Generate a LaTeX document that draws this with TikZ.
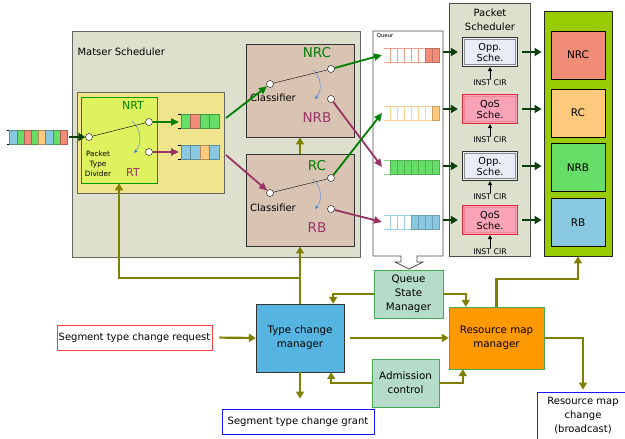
\documentclass[tikz,border=0pt]{standalone}
\usepackage{fontspec}
\setmainfont{DejaVu Sans}
\usetikzlibrary{arrows.meta, positioning, calc}

\definecolor{schedgray}{RGB}{221,224,204}
\definecolor{divyellow}{RGB}{240,228,140}
\definecolor{divlime}{RGB}{222,242,96}
\definecolor{clsbrown}{RGB}{217,196,180}
\definecolor{ctrlolive}{RGB}{128,128,0}
\definecolor{nrgreen}{RGB}{0,128,0}
\definecolor{rtpurple}{RGB}{153,51,102}
\definecolor{pathgreen}{RGB}{10,64,10}
\definecolor{qblue}{RGB}{136,200,224}
\definecolor{qgreen}{RGB}{102,221,102}
\definecolor{qred}{RGB}{240,140,120}
\definecolor{qorange}{RGB}{253,201,124}
\definecolor{oppfill}{RGB}{232,236,244}
\definecolor{qosfill}{RGB}{249,163,184}
\definecolor{qosred}{RGB}{224,40,60}
\definecolor{gridgreen}{RGB}{153,204,0}
\definecolor{tcmblue}{RGB}{85,180,224}
\definecolor{rmmorange}{RGB}{255,153,0}
\definecolor{mgrmint}{RGB}{180,220,200}
\definecolor{mgredge}{RGB}{68,170,85}
\definecolor{arcblue}{RGB}{74,128,208}

\tikzset{
  panel/.style={rectangle, draw=#1, line width=0.9pt, inner sep=0pt},
  port/.style={circle, draw=black, fill=white, thin, inner sep=0pt, minimum size=7pt},
  switcharc/.style={-{Stealth[length=4pt,width=3.5pt]}, arcblue, thin},
  ctrl/.style={-{Triangle[length=7pt,width=8pt]}, line width=2.2pt, ctrlolive},
  flow/.style={-{Triangle[length=8pt,width=7pt]}, line width=1.8pt, #1},
  sched/.style={-{Triangle[length=7pt,width=8pt]}, line width=2.4pt, pathgreen},
  cirarrow/.style={-{Triangle[length=4pt,width=4pt]}, line width=1pt, black},
  mgr/.style={rectangle, draw=#1, align=center, inner sep=0pt,
              font=\fontsize{10.3}{14}\selectfont},
  msgbox/.style={rectangle, draw=#1, fill=white, line width=0.8pt, inner sep=0pt,
                 minimum height=25pt, font=\fontsize{10}{12}\selectfont},
  oppsch/.style={rectangle, draw=black!80, line width=1.2pt, fill=oppfill,
                 minimum width=55pt, minimum height=29pt, inner sep=0pt,
                 align=center, font=\fontsize{9.7}{11}\selectfont},
  qossch/.style={oppsch, draw=qosred, fill=qosfill},
  cir/.style={inner sep=1pt, font=\fontsize{7.8}{8}\selectfont},
  slot/.style={rectangle, draw=black, line width=1pt, minimum width=54pt,
               minimum height=48pt, font=\fontsize{10.5}{12}\selectfont}
}

% a row of packets, left x / top y / cell width / colours
\newcommand{\cellrow}[4]{%
  \foreach \qc [count=\qi from 0] in {#4}
    \draw[draw=\qc!70!black, fill=\qc] ({#1+\qi*#3},#2) rectangle ++(#3,14);
}
% seven slot buffer, top y / colour / slots in use
\newcommand{\bufrow}[3]{%
  \draw[#2!85, line width=0.9pt] (384,#1) -- (390,#1) (384,#1+14) -- (390,#1+14);
  \foreach \qi in {0,...,6}{
    \ifnum\qi<\numexpr7-#3\relax
      \draw[#2!85, line width=0.8pt, fill=white] ({390+7*\qi},#1) rectangle ++(7,14);
    \else
      \draw[#2!80!black, line width=0.8pt, fill=#2] ({390+7*\qi},#1) rectangle ++(7,14);
    \fi
  }
}

\begin{document}
\begin{tikzpicture}[x=1pt, y=-1pt, font=\fontsize{10}{12}\selectfont]
\useasboundingbox (0,0) rectangle (625,439);
\clip (0,0) rectangle (625,439);

% master scheduler
\node[panel=black!60, fill=schedgray, minimum width=288pt, minimum height=226pt] (master) at (216,144) {};
\node[anchor=west] (mastertitle) at (74,52) {Matser Scheduler};

\node[panel=black!60, fill=divyellow, minimum width=147pt, minimum height=101pt] (divider) at (150.5,142.5) {};
\node[panel=green!60!black, fill=divlime, line width=0.6pt, minimum width=76pt, minimum height=86pt] (ptd) at (119,140) {};
\node[nrgreen, font=\fontsize{11}{12}\selectfont] (nrtlabel) at (133,105) {NRT};
\node[rtpurple, font=\fontsize{11}{12}\selectfont] (rtlabel) at (133,172) {RT};
\node[align=center, font=\fontsize{7.3}{10}\selectfont] (ptdlabel) at (98,164) {Packet\\Type\\Divider};

\node[port] (ptdin) at (89,137) {};
\node[port] (nrtout) at (149,122) {};
\node[port] (rtout) at (149,152) {};
\draw[thin] (ptdin) -- (nrtout);
\draw[switcharc] (132,121) to[bend left=45] (134,153);

% incoming packets
\draw[thin] (6.5,130) -- (9.5,130) (6.5,144) -- (9.5,144);
\cellrow{9.5}{130}{7.2}{qblue,qgreen,qred,qgreen,qorange,qblue,qgreen,qred}
\coordinate (inqout) at (69,137);
\draw[sched] (inqout) -- (ptdin);

% NRT / RT queues
\draw[thin] (178,114) -- (181,114) (178,128) -- (181,128) (178,145) -- (181,145) (178,159) -- (181,159);
\cellrow{181}{114}{9.5}{qgreen,qred,qgreen,qgreen}
\cellrow{181}{145}{9.5}{qblue,qblue,qorange,qblue}
\coordinate (nrtqin) at (179,122);
\coordinate (rtqin) at (179,152);
\coordinate (nrtqout) at (226,118);
\coordinate (rtqout) at (226,155);
\draw[flow=nrgreen] (nrtout) -- (nrtqin);
\draw[flow=rtpurple] (rtout) -- (rtqin);

% classifiers
\node[panel=black!80, fill=clsbrown, minimum width=108pt, minimum height=93pt] (clsup) at (300,90.5) {};
\node[panel=black!80, fill=clsbrown, minimum width=108pt, minimum height=92pt] (clslo) at (300,200) {};
\node[nrgreen, font=\fontsize{13.5}{14}\selectfont] (nrclabel) at (317,53) {NRC};
\node[rtpurple, font=\fontsize{13.5}{14}\selectfont] (nrblabel) at (317,118) {NRB};
\node[nrgreen, font=\fontsize{13.5}{14}\selectfont] (rclabel) at (317,166) {RC};
\node[rtpurple, font=\fontsize{13.5}{14}\selectfont] (rblabel) at (317,228) {RB};
\node (clsuplabel) at (273,98) {Classifier};
\node (clslolabel) at (273,208) {Classifier};

\node[port] (clsupin) at (270,84) {};
\node[port] (nrcout) at (331,69) {};
\node[port] (nrbout) at (331,99) {};
\node[port] (clsloin) at (270,193) {};
\node[port] (rcout) at (331,178) {};
\node[port] (rbout) at (331,209) {};
\draw[thin] (clsupin) -- (nrcout);
\draw[thin] (clsloin) -- (rcout);
\draw[switcharc] (313,70) to[bend left=45] (315,99);
\draw[switcharc] (313,179) to[bend left=45] (315,209);

\draw[flow=nrgreen] (nrtqout) -- (clsupin);
\draw[flow=rtpurple] (rtqout) -- (clsloin);

% queues
\draw[black!70, fill=white, line width=0.8pt] (373,31) -- (443,31) -- (443,256) -- (417,256)
  -- (417,262) -- (423,262) -- (409,269) -- (395,262) -- (401,262) -- (401,256) -- (373,256) -- cycle;
\node[anchor=west, font=\fontsize{5.5}{6}\selectfont] (queuetitle) at (373,36) {Queur};
\coordinate (qedge) at (443,31);
\bufrow{48}{qred}{2}
\bufrow{106}{qorange}{1}
\bufrow{160}{qgreen}{7}
\bufrow{215}{qblue}{4}
\coordinate (nrcqin) at (382,55);
\coordinate (rcqin) at (382,113);
\coordinate (nrbqin) at (382,167);
\coordinate (rbqin) at (382,222);
\draw[flow=nrgreen] (nrcout) -- (nrcqin);
\draw[flow=rtpurple] (nrbout) -- (nrbqin);
\draw[flow=nrgreen] (rcout) -- (rcqin);
\draw[flow=rtpurple] (rbout) -- (rbqin);

% packet scheduler
\node[panel=black!70, fill=schedgray, minimum width=81pt, minimum height=253pt] (pktsched) at (489.5,129.5) {};
\node[align=center, font=\fontsize{10}{14}\selectfont] (pkttitle) at (490,20) {Packet\\Scheduler};
\node[oppsch] (oppa) at (490,52) {Opp.\\Sche.};
\node[qossch] (qosa) at (490,109) {QoS\\Sche.};
\node[oppsch] (oppb) at (490,166) {Opp.\\Sche.};
\node[qossch] (qosb) at (490,220) {QoS\\Sche.};
\foreach \s/\e in {oppa/black!45,qosa/qosred!55,oppb/black!45,qosb/qosred!55}
  \draw[\e, line width=0.7pt] ([shift={(2.5,2.5)}]\s.north west) rectangle ([shift={(-2.5,-2.5)}]\s.south east);
\node[cir] (cira) at (490,83) {INST CIR};
\node[cir] (cirb) at (490,140) {INST CIR};
\node[cir] (circ) at (490,197) {INST CIR};
\node[cir] (cird) at (490,252) {INST CIR};
\foreach \c/\s in {cira/oppa,cirb/qosa,circ/oppb,cird/qosb}
  \draw[cirarrow] (\c.north) -- (\s.south);

% resource grid
\node[panel=black!85, fill=gridgreen, minimum width=68pt, minimum height=245pt] (resgrid) at (578,133.5) {};
\node[slot, fill=qred] (nrcslot) at (578,55) {NRC};
\node[slot, fill=qorange] (rcslot) at (578,113) {RC};
\node[slot, fill=qgreen] (nrbslot) at (578,167.5) {NRB};
\node[slot, fill=qblue] (rbslot) at (578,222.5) {RB};

\foreach \s in {oppa,qosa,oppb,qosb}{
  \draw[sched] (qedge |- \s.west) -- ([xshift=-4pt]\s.west);
  \draw[sched] ([xshift=4pt]\s.east) -- ([xshift=-2pt]\s.east -| resgrid.west);
}

% managers
\node[mgr=black!80, fill=tcmblue, minimum width=88pt, minimum height=68pt] (tcm) at (300,338) {Type change\\manager};
\node[mgr=mgredge, fill=rmmorange, minimum width=95pt, minimum height=62pt] (rmm) at (496.5,338) {Resource map\\manager};
\node[mgr=mgredge, fill=mgrmint, minimum width=69pt, minimum height=48pt] (qsm) at (408.5,294) {Queue\\State\\Manager};
\node[mgr=mgredge, fill=mgrmint, minimum width=67pt, minimum height=48pt] (admc) at (405.5,383) {Admission\\control};

\node[msgbox=red!75, minimum width=155pt] (streq) at (134.5,337.5) {Segment type change request};
\node[msgbox=blue!90, minimum width=152pt] (stgrant) at (298,421.5) {Segment type change grant};
\node[msgbox=blue!90, minimum width=92pt, minimum height=48pt, align=center,
      font=\fontsize{10}{14}\selectfont] (rmbcast) at (583,416) {Resource map\\change\\(broadcast)};

% control paths
\coordinate (ctrlbus) at (301,278);
\coordinate (gridbus) at (496.5,279);
\draw[ctrl] (tcm.north) -- (clslo.south);
\draw[ctrl] (clslo.north) -- (clsup.south);
\draw[ctrl] (ctrlbus) -| (ptd.south);
\draw[ctrl, shorten <=7pt] (streq.east) -- (tcm.west);
\draw[ctrl, shorten >=10pt] (tcm.south) -- (tcm.south |- stgrant.north);
\draw[ctrl] (qsm.west) -| ([xshift=-11pt]tcm.north east);
\draw[ctrl] (qsm.east) -| ([xshift=17pt]rmm.north west);
\draw[ctrl, shorten <=6pt] (tcm.east) -- (rmm.west);
\draw[ctrl] (admc.west) -| ([xshift=-13pt]tcm.south east);
\draw[ctrl] (admc.east) -| ([xshift=14pt]rmm.south west);
\draw[ctrl] (rmm.north) -- (gridbus) -| (resgrid.south);
\draw[ctrl, shorten >=2pt] (rmm.east) -| (rmbcast.north);
\end{tikzpicture}
\end{document}
